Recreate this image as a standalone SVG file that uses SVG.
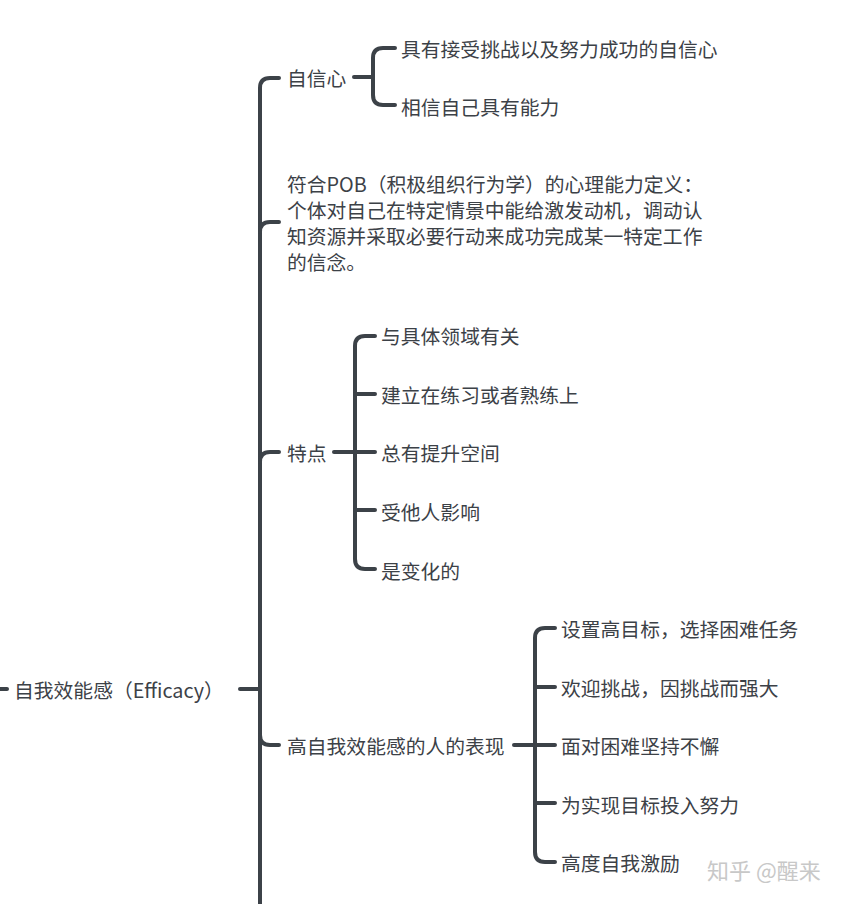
<svg xmlns="http://www.w3.org/2000/svg" width="864" height="904" viewBox="0 0 864 904">
<style>
text{font-family:"Noto Sans CJK SC","Noto Sans",sans-serif;font-size:19.8px;fill:#3c4147;dominant-baseline:central}
.c{fill:none;stroke:#3c4248;stroke-width:4;stroke-linecap:round}
</style>
<rect width="864" height="904" fill="#fff"/>
<g id="connectors" class="c">
<path d="M0 689H7"/>
<path d="M240 689H260"/>
<path d="M260 904V88Q260 78 270 78H279"/>
<path d="M260 232Q260 222 270 222H279"/>
<path d="M260 462Q260 452 270 452H279"/>
<path d="M260 735Q260 745 270 745H279"/>
<path d="M354 77H373"/>
<path d="M395 48H383Q373 48 373 58V95Q373 105 383 105H395"/>
<path d="M334 452H355"/>
<path d="M375 336H365Q355 336 355 346V559Q355 569 365 569H375"/>
<path d="M355 394H375M355 452H375M355 510H375"/>
<path d="M514 745H535"/>
<path d="M555 628H545Q535 628 535 638V852Q535 862 545 862H555"/>
<path d="M535 687H555M535 745H555M535 803H555"/>
</g>
<g id="root"><text x="14" y="689">自我效能感（Efficacy）</text></g>
<g id="n1"><text x="287" y="77">自信心</text></g>
<g id="n1a"><text x="401" y="48">具有接受挑战以及努力成功的自信心</text></g>
<g id="n1b"><text x="401" y="106">相信自己具有能力</text></g>
<g id="n2"><text x="287" y="183">符合POB（积极组织行为学）的心理能力定义：</text><text x="287" y="209">个体对自己在特定情景中能给激发动机，调动认</text><text x="287" y="235">知资源并采取必要行动来成功完成某一特定工作</text><text x="287" y="261">的信念。</text></g>
<g id="n3"><text x="287" y="452">特点</text></g>
<g id="n3a"><text x="381" y="335">与具体领域有关</text></g>
<g id="n3b"><text x="381" y="394">建立在练习或者熟练上</text></g>
<g id="n3c"><text x="381" y="452">总有提升空间</text></g>
<g id="n3d"><text x="381" y="511">受他人影响</text></g>
<g id="n3e"><text x="381" y="570">是变化的</text></g>
<g id="n4"><text x="287" y="745">高自我效能感的人的表现</text></g>
<g id="n4a"><text x="561" y="628">设置高目标，选择困难任务</text></g>
<g id="n4b"><text x="561" y="687">欢迎挑战，因挑战而强大</text></g>
<g id="n4c"><text x="561" y="745">面对困难坚持不懈</text></g>
<g id="n4d"><text x="561" y="804">为实现目标投入努力</text></g>
<g id="n4e"><text x="561" y="862">高度自我激励</text></g>
<text x="707" y="869" style="fill:#c8c8c8;font-size:22px">知乎 @醒来</text>
</svg>
